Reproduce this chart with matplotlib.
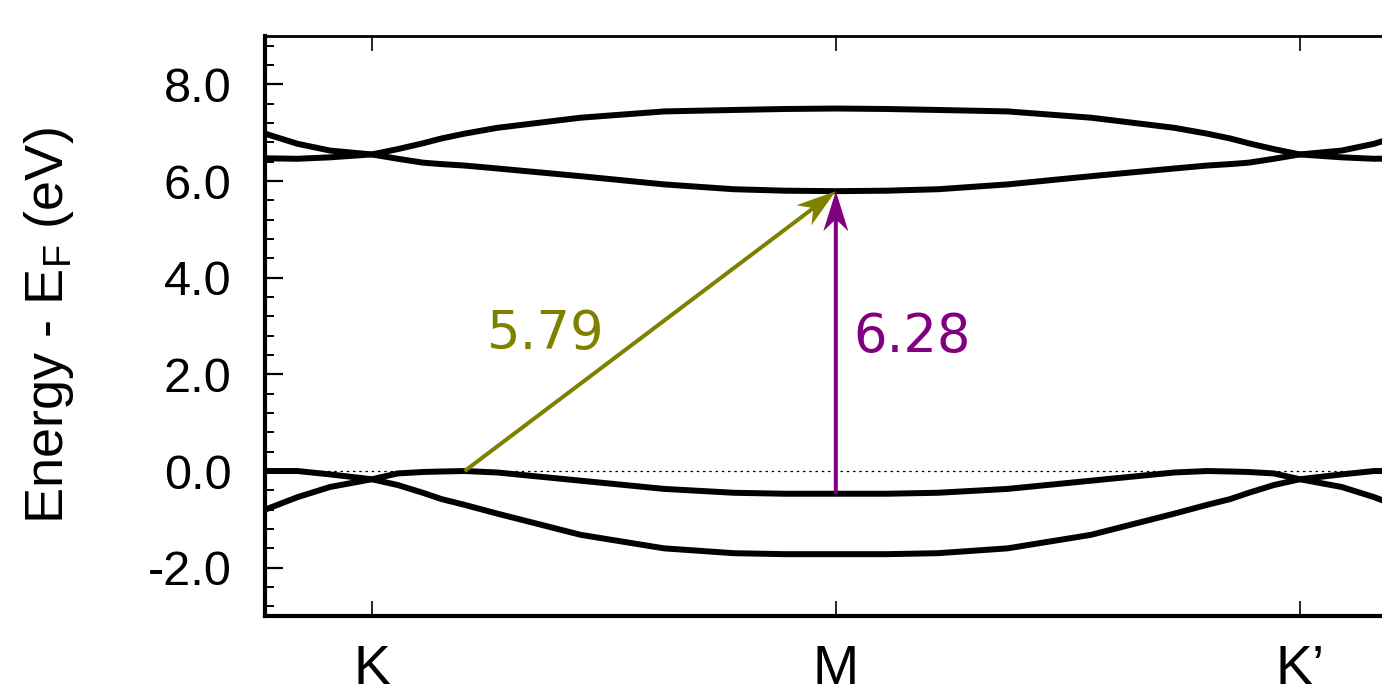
import matplotlib
matplotlib.use('Agg')
import matplotlib.pyplot as plt
from matplotlib.patches import FancyArrow
from matplotlib.transforms import IdentityTransform
from matplotlib.ticker import MultipleLocator

# k-path position (K = 0, M = 1, K' = 2)
kpath = [-0.23, -0.16, -0.09, 0.0, 0.056, 0.11, 0.15, 0.2, 0.27, 0.45, 0.63, 0.78, 0.89, 1.0,
         1.11, 1.22, 1.37, 1.55, 1.73, 1.8, 1.85, 1.89, 1.944, 2.0, 2.09, 2.16, 2.23]

# conduction bands
band_c2 = [6.98, 6.77, 6.63, 6.55, 6.66, 6.78, 6.88, 6.98, 7.1, 7.31, 7.44, 7.47, 7.49, 7.5,
           7.49, 7.47, 7.44, 7.31, 7.1, 6.98, 6.88, 6.78, 6.66, 6.55, 6.63, 6.77, 6.98]
band_c1 = [6.47, 6.46, 6.49, 6.55, 6.46, 6.38, 6.35, 6.32, 6.26, 6.1, 5.93, 5.83, 5.8, 5.79,
           5.8, 5.83, 5.93, 6.1, 6.26, 6.32, 6.35, 6.38, 6.46, 6.55, 6.49, 6.46, 6.47]
# valence bands
band_v1 = [0.0, 0.0, -0.07, -0.17, -0.05, -0.02, -0.01, 0.0, -0.03, -0.2, -0.37, -0.45, -0.47, -0.47,
           -0.47, -0.45, -0.37, -0.2, -0.03, 0.0, -0.01, -0.02, -0.05, -0.17, -0.07, 0.0, 0.0]
band_v2 = [-0.8, -0.54, -0.33, -0.17, -0.29, -0.45, -0.58, -0.7, -0.88, -1.32, -1.6, -1.7, -1.72, -1.72,
           -1.72, -1.7, -1.6, -1.32, -0.88, -0.7, -0.58, -0.45, -0.29, -0.17, -0.33, -0.54, -0.8]

kticks = [0.0, 1.0, 2.0]
klabels = ['K', 'M', 'K\u2019']

indirect_start = (0.2, 0.0)
indirect_end = (1.0, 5.79)
direct_start = (1.0, -0.47)
direct_end = (1.0, 5.79)

plt.rcParams['font.family'] = ['Liberation Sans', 'DejaVu Sans']

fig = plt.figure(figsize=(13.82, 6.86), dpi=100)
ax = fig.add_axes([0.1918, 0.102, 0.826, 0.8455])

ax.set_xlim(-0.23, 2.23)
ax.set_ylim(-3.0, 9.0)

ax.axhline(0.0, color='k', lw=0.9, ls=(0, (2, 3)), zorder=1)
for band in [band_c2, band_c1, band_v1, band_v2]:
	ax.plot(kpath, band, color='k', lw=4.3, zorder=3)

# arrows drawn in pixel space so the notched heads are not skewed
def gap_arrow(start, end, color):
	x0, y0 = ax.transData.transform(start)
	x1, y1 = ax.transData.transform(end)
	arr = FancyArrow(x0, y0, x1 - x0, y1 - y0, width=4, head_width=25, head_length=40,
					 overhang=0.25, length_includes_head=True, color=color, lw=0,
					 transform=IdentityTransform(), zorder=4)
	ax.add_patch(arr)

gap_arrow(indirect_start, indirect_end, '#808000')
gap_arrow(direct_start, direct_end, '#800080')

ax.text(0.375, 2.83, '5.79', color='#808000', fontsize=38, family='DejaVu Sans',
		ha='center', va='center')
ax.text(1.165, 2.77, '6.28', color='#800080', fontsize=38, family='DejaVu Sans',
		ha='center', va='center')

ax.set_xticks(kticks)
ax.set_xticklabels(klabels)
ax.yaxis.set_major_locator(MultipleLocator(2.0))
ax.yaxis.set_minor_locator(MultipleLocator(0.4))
ax.set_yticks([-2.0, 0.0, 2.0, 4.0, 6.0, 8.0])
ax.set_yticklabels(['-2.0', '0.0', '2.0', '4.0', '6.0', '8.0'])

ax.tick_params(axis='y', which='major', direction='in', length=13, width=1.6,
			   labelsize=35, pad=24, right=False)
ax.tick_params(axis='y', which='minor', direction='in', length=6.5, width=1.4, right=False)
ax.tick_params(axis='x', which='major', direction='in', length=11, width=1.2,
			   labelsize=40, pad=20, top=True)

for side in ['left', 'bottom']:
	ax.spines[side].set_linewidth(3)
ax.spines['top'].set_linewidth(2)
ax.spines['right'].set_linewidth(2)

ax.set_ylabel('Energy - E$_\\mathregular{F}$ (eV)', fontsize=39, labelpad=52)

fig.savefig('out.png', dpi=100)
